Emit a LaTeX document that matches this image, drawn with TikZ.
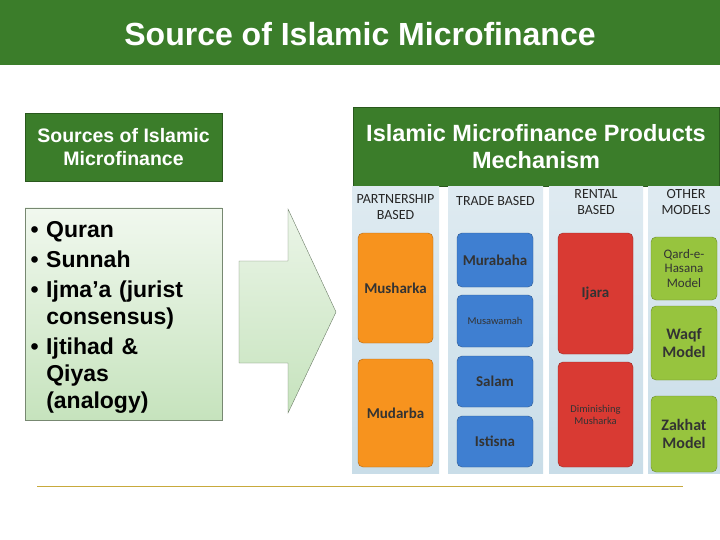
\documentclass[tikz,border=0pt]{standalone}
\usepackage{fontspec}
\setmainfont{Liberation Sans}
\newfontfamily\cfont{Carlito}
\usetikzlibrary{positioning}
\definecolor{slidegreen}{HTML}{3B7D2A}
\definecolor{palegreen}{HTML}{C6E3BD}
\definecolor{colbg}{HTML}{C9DDE8}
\newcommand{\fs}[1]{\fontsize{#1}{1.15\dimexpr#1pt\relax}\selectfont}
\tikzset{
  header/.style={draw=slidegreen!70!black, fill=slidegreen, text=white,
    font=\bfseries, align=center, inner sep=0pt},
  column/.style={top color=colbg!60, bottom color=colbg, draw=none},
  colhead/.style={font=\cfont\fs{14}, align=center, text=black!85},
  prodbox/.style={rounded corners=5pt, draw=#1!70!black, fill=#1, align=center,
    font=\cfont\bfseries\fs{15}, text=black!80, inner sep=1pt},
}
\definecolor{porange}{HTML}{F7931E}
\definecolor{pblue}{HTML}{3F7FD1}
\definecolor{pred}{HTML}{D93A33}
\definecolor{pgreen}{HTML}{97C43E}
\begin{document}
\begin{tikzpicture}[x=1pt,y=-1pt]
    \useasboundingbox (0,0) rectangle (720,540);
    % Title bar
    \fill[slidegreen] (0,0) rectangle (720,65);
    \node[text=white, font=\bfseries\fs{32}] (title) at (360,34)
        {Source of Islamic Microfinance};
    % Left side
    \node[header, minimum width=197pt, minimum height=68pt, font=\bfseries\fs{19.5}]
        (srchead) at (123.5,147) {Sources of Islamic\\Microfinance};
    \node[draw=palegreen!60!black, top color=palegreen!25, bottom color=palegreen,
        minimum width=197pt, minimum height=212pt, inner sep=0pt] (srcbox) at (123.5,314) {};
    \node[anchor=north west, align=left, text width=190pt,
        font=\bfseries\fontsize{23}{27}\selectfont] (srclist) at (27,218)
        {\textbullet\ Quran\\[3pt]
         \textbullet\ Sunnah\\[3pt]
         \textbullet\ Ijma’a (jurist\\\hphantom{\textbullet\ }consensus)\\[3pt]
         \textbullet\ Ijtihad \&\\\hphantom{\textbullet\ }Qiyas\\\hphantom{\textbullet\ }(analogy)};
    % Arrow
    \draw[draw=palegreen!55!black, top color=palegreen!35, bottom color=palegreen]
        (239,261) -- (288,261) -- (288,209) -- (336,312) -- (288,413)
        -- (288,363) -- (239,363) -- cycle;
    % Right side
    \node[header, minimum width=366pt, minimum height=79pt, font=\bfseries\fs{23.5}]
        (prodhead) at (536,146.5) {Islamic Microfinance Products\\Mechanism};
    \fill[column] (352,187) rectangle (439,473);
    \fill[column] (448,187) rectangle (543,473);
    \fill[column] (549,187) rectangle (643,473);
    \fill[column] (648,187) rectangle (720,473);
    \node[colhead] (c1) at (395.5,207) {PARTNERSHIP\\BASED};
    \node[colhead] (c2) at (495.5,201) {TRADE BASED};
    \node[colhead] (c3) at (596,202) {RENTAL\\BASED};
    \node[colhead] (c4) at (686,202) {OTHER\\MODELS};
    % Partnership based
    \node[prodbox=porange, minimum width=75pt, minimum height=110pt] (mush) at (395.5,288) {Musharka};
    \node[prodbox=porange, minimum width=75pt, minimum height=108pt] (mud) at (395.5,413) {Mudarba};
    % Trade based
    \node[prodbox=pblue, minimum width=76pt, minimum height=54pt] (mura) at (495,260) {Murabaha};
    \node[prodbox=pblue, minimum width=76pt, minimum height=52pt, font=\cfont\fs{10.5}] (musa) at (495,321) {Musawamah};
    \node[prodbox=pblue, minimum width=76pt, minimum height=51pt] (salam) at (495,381.5) {Salam};
    \node[prodbox=pblue, minimum width=76pt, minimum height=51pt] (ist) at (495,441.5) {Istisna};
    % Rental based
    \node[prodbox=pred, minimum width=75pt, minimum height=121pt] (ijara) at (595.5,293.5) {Ijara};
    \node[prodbox=pred, minimum width=75pt, minimum height=105pt, font=\cfont\fs{10.5}] (dim) at (595.5,414.5) {Diminishing\\Musharka};
    % Other models
    \node[prodbox=pgreen, minimum width=66pt, minimum height=63pt, font=\cfont\fs{13}] (qard) at (684,268.5) {Qard-e-\\Hasana\\Model};
    \node[prodbox=pgreen, minimum width=66pt, minimum height=74pt, font=\cfont\bfseries\fs{16}] (waqf) at (684,343) {Waqf\\Model};
    \node[prodbox=pgreen, minimum width=66pt, minimum height=76pt, font=\cfont\bfseries\fs{16}] (zak) at (684,434) {Zakhat\\Model};
    % Footer rule
    \draw[draw={rgb,255:red,200;green,170;blue,60}, line width=1pt] (37,486) -- (683,486);
\end{tikzpicture}
\end{document}
